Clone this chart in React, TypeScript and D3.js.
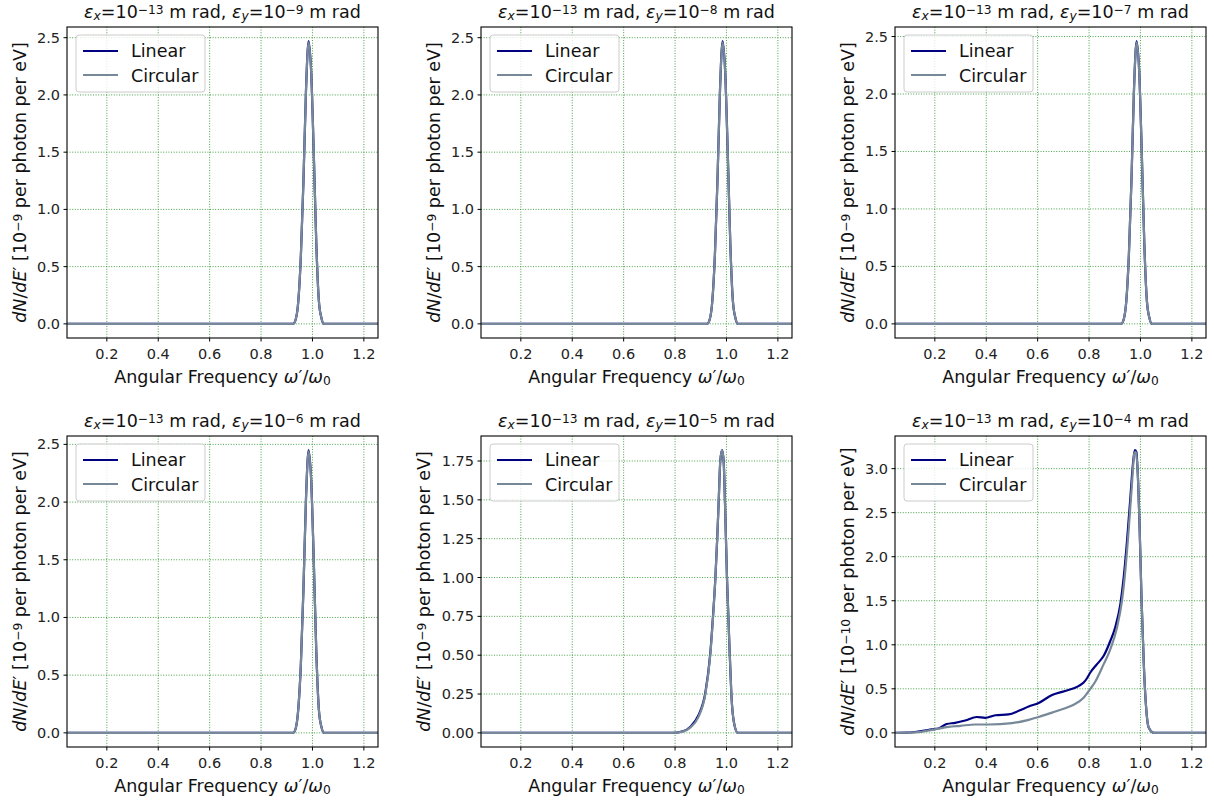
import React from "react";
import * as d3 from "d3";

// emittance exponents (eps_y) for each panel, left-to-right, top-to-bottom
const epsYExp = ["-9", "-8", "-7", "-6", "-5", "-4"];
const unitExp = ["-9", "-9", "-9", "-9", "-9", "-10"];

const xTicks = [0.2, 0.4, 0.6, 0.8, 1.0, 1.2];
const yTicksA = [0, 0.5, 1.0, 1.5, 2.0, 2.5];
const yTicks5 = [0, 0.25, 0.5, 0.75, 1.0, 1.25, 1.5, 1.75];
const yTicks6 = [0, 0.5, 1.0, 1.5, 2.0, 2.5, 3.0];

// narrow peak panels share one x grid
const peakX = [0.045, 0.925, 0.935, 0.945, 0.955, 0.965, 0.975, 0.985, 0.995, 1.005, 1.015, 1.025, 1.035, 1.045, 1.255];
const p1Lin = [0, 0, 0.04, 0.2, 0.6, 1.25, 2.05, 2.47, 2.2, 1.5, 0.7, 0.2, 0.05, 0, 0];
const p1Cir = [0, 0, 0.04, 0.2, 0.6, 1.25, 2.05, 2.46, 2.2, 1.5, 0.7, 0.2, 0.05, 0, 0];
const p2Lin = [0, 0, 0.04, 0.2, 0.6, 1.25, 2.05, 2.47, 2.2, 1.5, 0.7, 0.2, 0.05, 0, 0];
const p2Cir = [0, 0, 0.04, 0.2, 0.6, 1.25, 2.05, 2.46, 2.2, 1.5, 0.7, 0.2, 0.05, 0, 0];
const p3Lin = [0, 0, 0.04, 0.2, 0.6, 1.25, 2.05, 2.46, 2.2, 1.5, 0.7, 0.2, 0.05, 0, 0];
const p3Cir = [0, 0, 0.04, 0.2, 0.6, 1.25, 2.05, 2.45, 2.2, 1.5, 0.7, 0.2, 0.05, 0, 0];
const p4Lin = [0, 0, 0.04, 0.21, 0.6, 1.25, 2.04, 2.45, 2.19, 1.5, 0.7, 0.2, 0.05, 0, 0];
const p4Cir = [0, 0, 0.04, 0.21, 0.6, 1.25, 2.04, 2.44, 2.19, 1.5, 0.7, 0.2, 0.05, 0, 0];

const p5X = [0.045, 0.79, 0.83, 0.86, 0.89, 0.918, 0.937, 0.948, 0.957, 0.964, 0.97, 0.976, 0.983, 0.989, 0.994, 1.002, 1.013, 1.019, 1.031, 1.044, 1.255];
const p5Lin = [0, 0, 0.01, 0.04, 0.11, 0.26, 0.51, 0.76, 1.0, 1.25, 1.5, 1.75, 1.82, 1.75, 1.5, 1.0, 0.5, 0.25, 0.05, 0, 0];
const p5Cir = [0, 0, 0.008, 0.035, 0.1, 0.25, 0.5, 0.75, 1.0, 1.25, 1.5, 1.75, 1.82, 1.75, 1.5, 1.0, 0.5, 0.25, 0.05, 0, 0];

const p6LinX = [0.045, 0.09, 0.123, 0.16, 0.188, 0.214, 0.246, 0.279, 0.318, 0.363, 0.396, 0.435, 0.487, 0.526, 0.565, 0.604, 0.656, 0.707, 0.759, 0.779, 0.792, 0.805, 0.831, 0.857, 0.883, 0.902, 0.922, 0.935, 0.948, 0.961, 0.971, 0.978, 0.984, 0.989, 0.997, 1.004, 1.013, 1.022, 1.032, 1.052, 1.255];
const p6Lin = [0, 0.002, 0.01, 0.025, 0.04, 0.05, 0.1, 0.114, 0.14, 0.18, 0.17, 0.2, 0.21, 0.25, 0.3, 0.34, 0.43, 0.476, 0.53, 0.571, 0.62, 0.685, 0.78, 0.875, 1.046, 1.2, 1.465, 1.77, 2.19, 2.68, 3.06, 3.21, 3.19, 2.98, 2.3, 1.54, 0.78, 0.29, 0.06, 0, 0];
const p6CirX = [0.045, 0.123, 0.2, 0.253, 0.3, 0.357, 0.409, 0.5, 0.565, 0.604, 0.656, 0.707, 0.74, 0.779, 0.805, 0.824, 0.857, 0.883, 0.909, 0.928, 0.941, 0.954, 0.967, 0.976, 0.982, 0.989, 0.997, 1.004, 1.013, 1.022, 1.032, 1.052, 1.255];
const p6Cir = [0, 0.005, 0.04, 0.068, 0.08, 0.095, 0.095, 0.11, 0.148, 0.18, 0.23, 0.28, 0.32, 0.4, 0.5, 0.58, 0.78, 0.95, 1.2, 1.5, 1.84, 2.3, 2.83, 3.17, 3.19, 2.98, 2.3, 1.54, 0.78, 0.29, 0.06, 0, 0];

const zip = (xs: number[], ys: number[]) => xs.map((x, i) => [x, ys[i]] as [number, number]);

const panels = [
  { lin: zip(peakX, p1Lin), cir: zip(peakX, p1Cir), yTicks: yTicksA, fmt: d3.format(".1f") },
  { lin: zip(peakX, p2Lin), cir: zip(peakX, p2Cir), yTicks: yTicksA, fmt: d3.format(".1f") },
  { lin: zip(peakX, p3Lin), cir: zip(peakX, p3Cir), yTicks: yTicksA, fmt: d3.format(".1f") },
  { lin: zip(peakX, p4Lin), cir: zip(peakX, p4Cir), yTicks: yTicksA, fmt: d3.format(".1f") },
  { lin: zip(p5X, p5Lin), cir: zip(p5X, p5Cir), yTicks: yTicks5, fmt: d3.format(".2f") },
  { lin: zip(p6LinX, p6Lin), cir: zip(p6CirX, p6Cir), yTicks: yTicks6, fmt: d3.format(".1f") },
];

const colLeft = [67, 481, 895];
const rowTop = [27, 436];
const plotW = 311;
const plotH = 311;
const FONT = "DejaVu Sans";
const LIN = "#000080";
const CIR = "#778899";

function Panel({ idx }: { idx: number }) {
  const p = panels[idx];
  const left = colLeft[idx % 3];
  const top = rowTop[Math.floor(idx / 3)];
  const x = d3.scaleLinear().domain([0.045, 1.255]).range([left, left + plotW]);
  const all = [...p.lin, ...p.cir].map((d) => d[1]);
  const lo = d3.min(all)!, hi = d3.max(all)!;
  const pad = (hi - lo) * 0.05;
  const y = d3.scaleLinear().domain([lo - pad, hi + pad]).range([top + plotH, top]);
  const line = d3.line<[number, number]>().x((d) => x(d[0])).y((d) => y(d[1])).curve(d3.curveMonotoneX);
  const clip = `clip${idx}`;
  const sup = { baselineShift: "35%", fontSize: "70%" } as React.CSSProperties;
  const sub = { baselineShift: "-20%", fontSize: "70%" } as React.CSSProperties;
  const cx = left + plotW / 2;
  const cy = top + plotH / 2;
  // wider tick labels push the y label further out, like matplotlib does
  const labelOff = p.yTicks === yTicks5 ? 51 : 41;
  return (
    <g fontFamily={FONT}>
      <defs>
        <clipPath id={clip}>
          <rect x={left} y={top} width={plotW} height={plotH} />
        </clipPath>
      </defs>
      {/* grid */}
      <g stroke="#008000" strokeWidth={0.9} strokeDasharray="1,1.6" opacity={0.8}>
        {xTicks.map((t) => (
          <line key={"gx" + t} x1={x(t)} x2={x(t)} y1={top} y2={top + plotH} />
        ))}
        {p.yTicks.map((t) => (
          <line key={"gy" + t} x1={left} x2={left + plotW} y1={y(t)} y2={y(t)} />
        ))}
      </g>
      <g clipPath={`url(#${clip})`} fill="none" strokeWidth={2.2} strokeLinejoin="round">
        <path d={line(p.lin)!} stroke={LIN} />
        <path d={line(p.cir)!} stroke={CIR} />
      </g>
      <rect x={left} y={top} width={plotW} height={plotH} fill="none" stroke="#000" strokeWidth={1.1} />
      {/* x axis */}
      {xTicks.map((t) => (
        <g key={"xt" + t}>
          <line x1={x(t)} x2={x(t)} y1={top + plotH} y2={top + plotH + 3.5} stroke="#000" />
          <text x={x(t)} y={top + plotH + 21} textAnchor="middle" fontSize={14.5} fill="#222">
            {d3.format(".1f")(t)}
          </text>
        </g>
      ))}
      {p.yTicks.map((t) => (
        <g key={"yt" + t}>
          <line x1={left - 3.5} x2={left} y1={y(t)} y2={y(t)} stroke="#000" />
          <text x={left - 7} y={y(t) + 5} textAnchor="end" fontSize={14.5} fill="#222">
            {p.fmt(t)}
          </text>
        </g>
      ))}
      {/* title */}
      <text x={cx} y={top - 9} textAnchor="middle" fontSize={17.5} fill="#111">
        <tspan fontStyle="italic">ε</tspan>
        <tspan style={sub} fontStyle="italic">x</tspan>
        <tspan>=10</tspan>
        <tspan style={sup}>−13</tspan>
        <tspan> m rad, </tspan>
        <tspan fontStyle="italic">ε</tspan>
        <tspan style={sub} fontStyle="italic">y</tspan>
        <tspan>=10</tspan>
        <tspan style={sup}>{epsYExp[idx].replace("-", "−")}</tspan>
        <tspan> m rad</tspan>
      </text>
      {/* x label */}
      <text x={cx} y={top + plotH + 45} textAnchor="middle" fontSize={17.5} fill="#111">
        <tspan>Angular Frequency </tspan>
        <tspan fontStyle="italic">ω</tspan>
        <tspan>′/</tspan>
        <tspan fontStyle="italic">ω</tspan>
        <tspan style={sub}>0</tspan>
      </text>
      {/* y label */}
      <text transform={`translate(${left - labelOff},${cy}) rotate(-90)`} textAnchor="middle" fontSize={17.5} fill="#111">
        <tspan fontStyle="italic">dN</tspan>
        <tspan>/</tspan>
        <tspan fontStyle="italic">dE</tspan>
        <tspan>′ [10</tspan>
        <tspan style={sup}>{unitExp[idx].replace("-", "−")}</tspan>
        <tspan> per photon per eV]</tspan>
      </text>
      {/* legend */}
      <g>
        <rect x={left + 9} y={top + 8} width={129} height={57} rx={3} fill="#fff" fillOpacity={0.8} stroke="#ccc" />
        <line x1={left + 16} x2={left + 51} y1={top + 24} y2={top + 24} stroke={LIN} strokeWidth={2.2} />
        <line x1={left + 16} x2={left + 51} y1={top + 48} y2={top + 48} stroke={CIR} strokeWidth={2.2} />
        <text x={left + 64} y={top + 30} fontSize={17.5} fill="#111">Linear</text>
        <text x={left + 64} y={top + 55} fontSize={17.5} fill="#111">Circular</text>
      </g>
    </g>
  );
}

export default function App() {
  return (
    <svg width={1214} height={802} style={{ position: "absolute", left: 0, top: 0, background: "#fff" }}>
      {panels.map((_, i) => (
        <Panel key={i} idx={i} />
      ))}
    </svg>
  );
}
